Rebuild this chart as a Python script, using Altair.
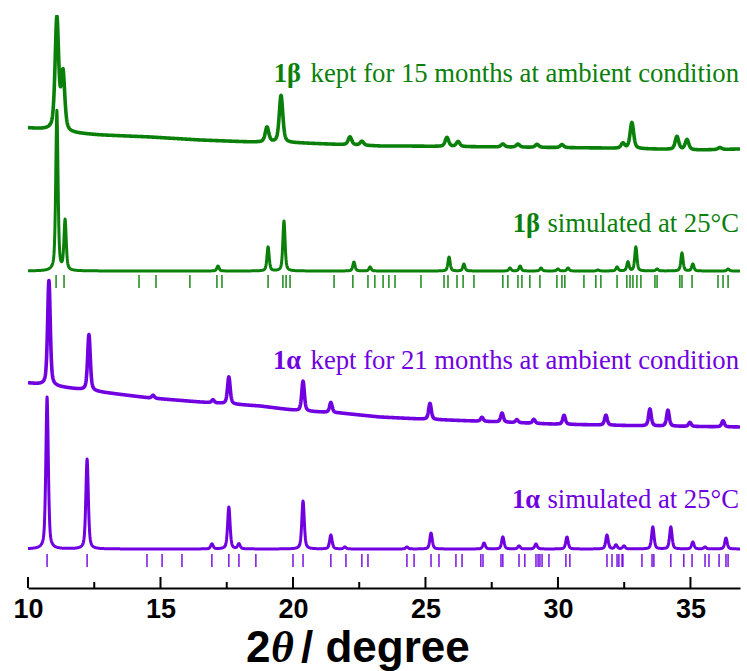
import numpy as np
import pandas as pd
import altair as alt

alt.data_transformers.disable_max_rows()

GREEN = "#0a800a"
VIOLET = "#7000e0"
X_MIN, X_MAX = 10.0, 36.87

# ---- 1β kept for 15 months (measured) ----
beta_exp_pos = [11.09, 11.32, 19.02, 19.55, 22.15, 22.60, 25.81, 26.23, 27.92,
                28.49, 29.21, 30.15, 32.45, 32.79, 34.49, 34.87, 36.11]
beta_exp_h = [112, 57, 15, 47, 8, 4, 9, 5, 3, 3, 3, 3, 5, 26, 13, 10, 2]
beta_exp_bg_x = [10.0, 10.8, 11.6, 12.72, 14.60, 16.49, 18.38, 20.26, 23.28,
                 24.04, 27.81, 31.58, 35.36, 36.87]
beta_exp_bg_y = [460, 458, 455, 453, 451, 448, 446, 445, 442, 442, 441, 440, 438, 439]

# ---- 1β simulated at 25 °C ----
beta_sim_pos = [11.09, 11.40, 17.17, 19.06, 19.66, 22.30, 22.91, 25.89, 26.45,
                28.19, 28.57, 29.36, 30.00, 30.38, 31.51, 32.23, 32.64, 32.94,
                33.74, 34.68, 35.09, 36.42]
beta_sim_h = [160, 50, 5, 24, 50, 9, 4, 14, 7, 3, 5, 3, 2, 3, 1, 4, 9, 24, 2, 18, 7, 2]
beta_sim_base = 317
beta_refl = [11.06, 11.36, 14.19, 14.83, 16.11, 17.13, 17.32, 19.06, 19.62, 19.74,
             19.89, 21.55, 22.26, 22.83, 23.09, 23.40, 23.62, 23.85, 24.83, 25.70,
             25.85, 26.19, 26.42, 26.83, 27.92, 28.11, 28.49, 28.64, 28.94, 29.32,
             29.96, 30.15, 30.26, 30.98, 31.43, 31.62, 32.23, 32.60, 32.72, 32.83,
             32.98, 33.13, 33.66, 33.74, 34.60, 34.68, 35.06, 36.04, 36.23, 36.42]

# ---- 1α kept for 21 months (measured) ----
alpha_exp_pos = [10.79, 12.30, 14.72, 16.98, 17.58, 20.38, 21.43, 25.17, 27.13,
                 27.89, 28.45, 29.09, 30.23, 31.81, 33.47, 34.15, 34.98, 36.23]
alpha_exp_h = [105, 56, 3, 3, 27, 30, 10, 16, 4, 9, 3, 4, 9, 10, 17, 16, 4, 6]
alpha_exp_bg_x = [10.0, 11.21, 12.72, 14.60, 16.49, 18.75, 20.26, 21.77, 23.28,
                  24.79, 27.81, 29.70, 31.58, 33.47, 36.87]
alpha_exp_bg_y = [205, 201, 196, 190, 186, 182, 177, 175, 171, 169, 166, 164, 163, 162, 161]

# ---- 1α simulated at 25 °C ----
alpha_sim_pos = [10.72, 12.23, 16.94, 17.58, 17.96, 20.38, 21.43, 21.96, 24.30,
                 25.21, 27.21, 27.92, 28.53, 29.17, 30.34, 31.85, 32.19, 32.49,
                 33.58, 34.26, 35.09, 35.55, 36.34]
alpha_sim_h = [152, 90, 5, 42, 5, 48, 14, 2, 2, 16, 6, 12, 3, 5, 12, 14, 4, 3,
               22, 22, 7, 2, 11]
alpha_sim_base = 39
alpha_refl = [10.72, 12.23, 14.49, 15.06, 15.81, 16.94, 17.58, 17.96, 18.60, 20.00,
              20.38, 21.43, 22.00, 22.60, 22.83, 24.30, 24.57, 25.21, 25.51, 26.15,
              26.38, 27.09, 27.17, 27.85, 27.92, 28.53, 28.75, 29.17, 29.25, 29.32,
              29.40, 29.66, 30.30, 30.45, 31.85, 32.04, 32.23, 32.30, 32.42, 32.45,
              33.17, 33.55, 33.62, 34.26, 34.75, 35.06, 35.55, 35.70, 36.08, 36.34,
              36.42]

major_ticks = [10, 15, 20, 25, 30, 35]
minor_ticks = [12.5, 17.5, 22.5, 27.5, 32.5]

grid = np.arange(X_MIN, X_MAX + 1e-9, 0.01)


def profile(pos, heights, fwhm, bg_x, bg_y):
    """Pseudo-Voigt peak sum on top of a background."""
    y = np.interp(grid, bg_x, bg_y).astype(float)
    for p, a in zip(pos, heights):
        d = 2.0 * (grid - p) / fwhm
        y += a * (0.5 / (1.0 + d ** 2) + 0.5 * np.exp(-np.log(2) * d ** 2))
    return pd.DataFrame({"two_theta": grid, "intensity": y})


W, H = 712, 573
xs = alt.Scale(domain=[X_MIN, X_MAX], nice=False, zero=False)
ys = alt.Scale(domain=[0, H], nice=False, zero=False)

# one shared bottom axis: domain line and bold labels (ticks are drawn as rules)
x_axis = alt.Axis(values=major_ticks, format="d", ticks=False, grid=False,
                  domainColor="black", domainWidth=2, labelFlush=False,
                  labelFont="Liberation Sans", labelFontWeight="bold",
                  labelFontSize=27, labelColor="black", labelPadding=8,
                  title=None)


def X():
    return alt.X("two_theta:Q", scale=xs, axis=x_axis)


def trace(df, color, width):
    return alt.Chart(df).mark_line(color=color, strokeWidth=width, clip=True,
                                   strokeJoin="round").encode(
        x=X(), y=alt.Y("intensity:Q", scale=ys, axis=None))


def rules(pos, color, width, top, bottom):
    return alt.Chart(pd.DataFrame({"two_theta": pos})).mark_rule(
        color=color, strokeWidth=width).encode(
        x=X(), y=alt.value(top), y2=alt.value(bottom))


layers = [
    trace(profile(beta_exp_pos, beta_exp_h, 0.16, beta_exp_bg_x, beta_exp_bg_y), GREEN, 3.6),
    trace(profile(beta_sim_pos, beta_sim_h, 0.10, [X_MIN, X_MAX], [beta_sim_base] * 2), GREEN, 3.0),
    trace(profile(alpha_exp_pos, alpha_exp_h, 0.12, alpha_exp_bg_x, alpha_exp_bg_y), VIOLET, 3.6),
    trace(profile(alpha_sim_pos, alpha_sim_h, 0.11, [X_MIN, X_MAX], [alpha_sim_base] * 2), VIOLET, 3.0),
    rules(beta_refl, GREEN, 1.4, 260, 273),
    rules(alpha_refl, VIOLET, 1.4, 539, 552),
    rules(major_ticks, "black", 2, H - 11, H),
    rules(minor_ticks, "black", 2, H - 6, H),
]

# curve captions: bold compound label + plain description
captions = [
    ("1β", "kept for 15 months at ambient condition", GREEN, 273, 67),
    ("1β", "simulated at 25°C", GREEN, 512, 217),
    ("1α", "kept for 21 months at ambient condition", VIOLET, 273, 354),
    ("1α", "simulated at 25°C", VIOLET, 512, 493),
]
for bold, plain, color, bx, by in captions:
    layers.append(alt.Chart(pd.DataFrame({"t": [bold]})).mark_text(
        font="Liberation Serif", fontWeight="bold", fontSize=26.5, color=color,
        align="right", baseline="alphabetic").encode(
        text="t:N", x=alt.value(bx), y=alt.value(by)))
    layers.append(alt.Chart(pd.DataFrame({"t": [plain]})).mark_text(
        font="Liberation Serif", fontSize=26.7, color=color,
        align="right", baseline="alphabetic").encode(
        text="t:N", x=alt.value(W - 1), y=alt.value(by)))

# axis title: 2θ / degree
title_parts = [
    ("2", "Liberation Sans", "normal", 218),
    ("θ", "Liberation Serif", "italic", 243),
    ("/ degree", "Liberation Sans", "normal", 273),
]
for txt, fnt, style, tx in title_parts:
    layers.append(alt.Chart(pd.DataFrame({"t": [txt]})).mark_text(
        font=fnt, fontWeight="bold", fontStyle=style, fontSize=44, color="black",
        align="left", baseline="alphabetic").encode(
        text="t:N", x=alt.value(tx), y=alt.value(H + 74)))

chart = alt.layer(*layers).properties(
    width=W, height=H,
    autosize=alt.AutoSizeParams(type="none"),
    padding={"left": 28, "top": 15, "right": 7, "bottom": 83},
).configure_view(strokeWidth=0)

chart.save("out.html", embed_options={"renderer": "svg", "actions": False})
